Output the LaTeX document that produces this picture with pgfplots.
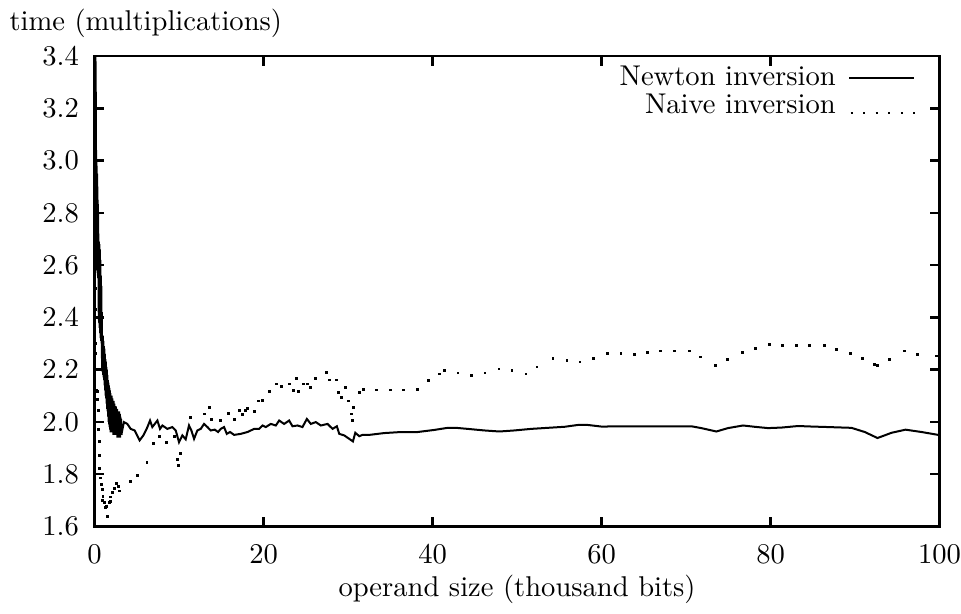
\documentclass[border=0pt]{standalone}
\usepackage{pgfplots}
\pgfplotsset{compat=1.18}
\begin{document}
\begin{tikzpicture}
\begin{axis}[
  width=295.6pt, height=164.5pt, scale only axis,
  xmin=0, xmax=100, ymin=1.6, ymax=3.4,
  xtick={0,20,40,60,80,100},
  ytick={1.6,1.8,2.0,2.2,2.4,2.6,2.8,3.0,3.2,3.4},
  y tick label style={/pgf/number format/fixed, /pgf/number format/fixed zerofill, /pgf/number format/precision=1, xshift=-2pt},
  x tick label style={yshift=-3pt, inner xsep=0pt},
  tick align=inside, tick pos=both,
  major tick length=3.3pt,
  major tick style={black, line width=0.9pt},
  axis line style={line width=0.9pt},
  xlabel={operand size (thousand bits)},
  ylabel={time (multiplications)},
  every axis x label/.style={at={(rel axis cs:0.5,0)}, anchor=base, yshift=-24.6pt},
  every axis y label/.style={at={(rel axis cs:0,1)}, anchor=base west, xshift=-33.3pt, yshift=8.8pt},
  legend cell align=right,
  legend plot pos=right,
  legend style={draw=none, fill=none, inner sep=0pt, at={(rel axis cs:1,1)}, anchor=north east, xshift=-8.1pt, yshift=-1.2pt, row sep=-2.6pt, column sep=3.3pt, nodes={inner xsep=1pt}},
]
\addplot[black, line width=0.7pt, legend image code/.code={\draw[black, line width=0.7pt] (0pt,0pt) -- (22.8pt,0pt);}] coordinates {
(0.05,3.40)(0.07,2.86)(0.09,3.40)(0.11,2.84)(0.13,3.38)(0.15,2.85)(0.16,3.20)(0.17,2.80)(0.18,3.02)(0.19,2.62)
(0.21,3.00)(0.23,2.60)(0.25,2.98)(0.27,2.58)(0.29,2.95)(0.31,2.58)(0.33,2.90)(0.35,2.57)(0.37,2.85)(0.39,2.56)
(0.41,2.80)(0.43,2.55)(0.45,2.72)(0.47,2.42)(0.49,2.69)(0.52,2.38)(0.55,2.68)(0.58,2.36)(0.61,2.66)(0.64,2.34)
(0.67,2.62)(0.70,2.32)(0.73,2.56)(0.76,2.31)(0.79,2.52)(0.82,2.30)(0.85,2.42)(0.88,2.20)(0.91,2.33)(0.94,2.19)
(0.97,2.33)(1.00,2.18)(1.03,2.31)(1.06,2.17)(1.09,2.29)(1.12,2.16)(1.15,2.28)(1.18,2.14)(1.21,2.26)(1.24,2.12)
(1.27,2.24)(1.30,2.10)(1.33,2.23)(1.36,2.09)(1.39,2.21)(1.42,2.07)(1.45,2.20)(1.48,2.05)(1.51,2.18)(1.54,2.04)
(1.57,2.16)(1.60,2.02)(1.63,2.15)(1.66,2.00)(1.69,2.14)(1.72,1.99)(1.75,2.13)(1.78,1.98)(1.81,2.12)(1.84,1.97)
(1.87,2.11)(1.90,1.96)(1.94,2.10)(1.98,1.96)(2.02,2.10)(2.06,1.96)(2.10,2.09)(2.14,1.96)(2.18,2.08)(2.22,1.95)
(2.26,2.08)(2.30,1.95)(2.34,2.07)(2.38,1.95)(2.42,2.06)(2.46,1.95)(2.50,2.06)(2.54,1.95)(2.58,2.05)(2.62,1.95)
(2.66,2.05)(2.70,1.94)(2.74,2.04)(2.78,1.94)(2.82,2.04)(2.86,1.95)(2.90,2.04)(2.94,1.94)(2.98,2.03)(3.02,1.94)
(3.06,2.02)(3.10,1.95)(3.14,2.01)(3.18,1.95)(3.22,1.96)
(3.47,1.999) (3.87,1.992) (4.27,1.973) (4.74,1.967) (5.33,1.929) (5.77,1.948) (6.16,1.973)
(6.56,2.005) (6.83,1.980) (7.43,2.005) (7.74,1.973) (8.02,1.986) (8.61,1.973) (9.20,1.980)
(9.60,1.967) (9.99,1.922) (10.39,1.948) (10.78,1.933) (11.17,1.986) (11.45,1.967) (11.77,1.935)
(12.16,1.967) (12.56,1.973) (12.95,1.992) (13.35,1.980) (13.74,1.967) (14.22,1.970) (14.61,1.961)
(14.93,1.973) (15.32,1.980) (15.64,1.954) (16.03,1.961) (16.51,1.950) (17.30,1.954) (18.09,1.961)
(18.88,1.973) (19.47,1.973) (19.87,1.986) (20.26,1.980) (20.85,1.992) (21.45,1.986) (21.84,2.005)
(22.43,1.992) (23.02,2.005) (23.42,1.983) (24.02,1.986) (24.60,1.980) (25.12,2.011) (25.59,1.992)
(26.18,1.999) (26.78,1.986) (27.57,1.992) (28.16,1.973) (28.67,1.983) (28.95,1.954) (29.54,1.948)
(30.13,1.935) (30.57,1.925) (30.85,1.958) (31.32,1.945) (31.71,1.950) (32.50,1.950) (34.28,1.957)
(36.26,1.961) (38.23,1.961) (40.20,1.969) (41.78,1.977) (42.77,1.977) (44.16,1.973) (46.13,1.967)
(47.90,1.963) (49.68,1.967) (51.66,1.973) (53.63,1.977) (55.61,1.981) (57.19,1.988) (58.37,1.988)
(59.95,1.982) (65.88,1.983) (70.62,1.983) (71.80,1.976) (73.58,1.963) (74.96,1.976) (76.74,1.986)
(78.12,1.981) (79.70,1.976) (81.28,1.978) (83.26,1.984) (84.83,1.982) (86.81,1.980) (89.57,1.977)
(91.15,1.961) (92.65,1.938) (94.31,1.958) (95.97,1.970) (97.87,1.961) (99.84,1.950)
};
\addlegendentry{Newton inversion}
\addplot[only marks, mark=square*, mark size=0.3pt, black, legend image code/.code={\draw[black, line width=0.7pt, dash pattern=on 0.7pt off 3.7pt] (0.5pt,-2.5pt) -- (23pt,-2.5pt);}] coordinates {
(0.06,2.51) (0.06,2.43) (0.08,2.30) (0.12,2.26) (0.20,2.12) (0.30,2.115) (0.32,2.086) (0.45,2.045)
(0.48,1.97) (0.55,1.925) (0.57,1.870) (0.58,1.820) (0.68,1.785) (0.77,1.760) (0.89,1.740) (1.00,1.715)
(0.90,1.700) (1.16,1.690) (1.40,1.675) (1.28,1.672) (1.55,1.638) (1.78,1.690) (1.92,1.695) (1.85,1.712)
(2.08,1.730) (2.32,1.745) (2.58,1.765) (2.82,1.752) (2.95,1.735) (4.25,1.772) (5.10,1.795) (6.20,1.845)
(7.00,1.918) (7.70,1.945) (8.55,1.922) (9.45,1.943) (9.80,1.855) (9.95,1.833) (10.20,1.880) (11.35,2.015)
(13.00,2.030) (13.60,2.055) (13.85,2.010) (14.90,2.005) (15.85,2.033) (16.55,2.010) (17.15,2.045) (17.50,2.028)
(17.85,2.045) (18.10,2.050) (18.95,2.040) (19.40,2.080) (19.85,2.083) (20.70,2.115) (21.55,2.145) (22.10,2.135)
(23.10,2.145) (23.55,2.120) (23.90,2.165) (24.15,2.117) (24.75,2.145) (25.20,2.145) (25.55,2.130) (26.15,2.165)
(27.45,2.190) (27.80,2.160) (28.65,2.160) (28.90,2.112) (29.25,2.092) (29.70,2.130) (30.05,2.080) (30.40,2.030)
(30.50,2.005) (30.65,2.055) (31.35,2.112) (31.85,2.125) (33.40,2.122) (35.05,2.122) (36.60,2.122) (38.25,2.125)
(39.55,2.157) (40.85,2.183) (41.45,2.198) (43.00,2.187) (44.65,2.176) (46.20,2.187) (47.85,2.202) (49.40,2.195)
(51.05,2.183) (52.35,2.210) (54.25,2.244) (55.90,2.236) (57.45,2.229) (59.00,2.244) (60.65,2.263) (62.30,2.263)
(63.85,2.259) (65.40,2.267) (66.95,2.271) (68.60,2.271) (70.40,2.271) (71.70,2.248) (73.45,2.217) (74.90,2.240)
(76.65,2.267) (78.20,2.282) (79.85,2.297) (81.40,2.293) (83.05,2.293) (84.60,2.293) (86.40,2.293) (87.80,2.278)
(89.45,2.263) (90.90,2.244) (92.30,2.221) (92.65,2.217) (94.10,2.240) (95.85,2.271) (97.40,2.259) (99.65,2.252)
};
\addlegendentry{Naive inversion}
\end{axis}
\end{tikzpicture}
\end{document}
